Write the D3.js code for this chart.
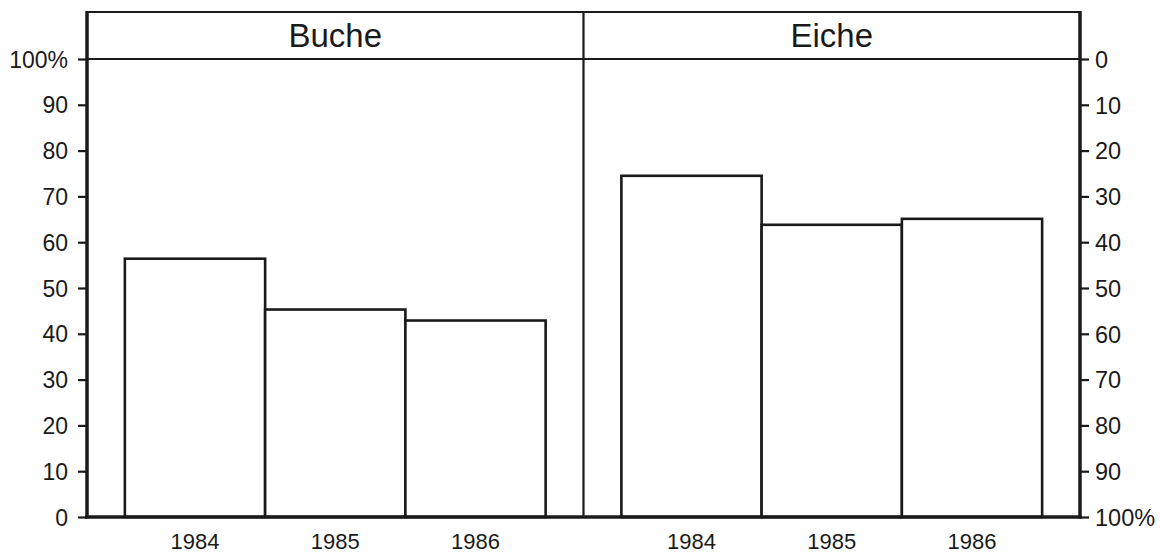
<!DOCTYPE html>
<html><head><meta charset="utf-8">
<script src="https://cdn.jsdelivr.net/npm/d3@7"></script>
<style>
body{margin:0;background:#fff;}
svg text{font-family:"Liberation Sans",Arial,sans-serif;fill:#1a1a1a;}
</style></head>
<body><svg id="c" width="1160" height="557"></svg>
<script>
const panels = ["Buche", "Eiche"];
const years = ["1984", "1985", "1986"];
const bucheValues = [56.4, 45.3, 42.9];
const eicheValues = [74.5, 63.8, 65.1];
const leftTicks = [0, 10, 20, 30, 40, 50, 60, 70, 80, 90, 100];
const rightTicks = [0, 10, 20, 30, 40, 50, 60, 70, 80, 90, 100];
const seriesValues = [bucheValues, eicheValues];

const svg = d3.select("#c");
const ink = "#1a1a1a";
const L = 87, R = 1080, T = 12, H = 59, B = 517;

const y = d3.scaleLinear().domain([0, 100]).range([B, H]);
const yr = d3.scaleLinear().domain([0, 100]).range([H, B]);
const px = d3.scaleBand().domain(panels).range([L, R]);

// bars
panels.forEach((p, i) => {
  const x = d3.scaleBand().domain(years).range([px(p), px(p) + px.bandwidth()])
    .paddingInner(0).paddingOuter(0.27);
  const g = svg.append("g");
  g.selectAll("rect").data(seriesValues[i]).join("rect")
    .attr("x", (d, j) => x(years[j]))
    .attr("y", d => y(d))
    .attr("width", x.bandwidth())
    .attr("height", d => B - y(d))
    .attr("fill", "#fff").attr("stroke", ink).attr("stroke-width", 2.6);
  g.selectAll("text").data(years).join("text")
    .attr("x", d => x(d) + x.bandwidth() / 2)
    .attr("y", 549).attr("text-anchor", "middle")
    .style("font-size", "22px").text(d => d);
  svg.append("text").attr("x", px(p) + px.bandwidth() / 2).attr("y", 47)
    .attr("text-anchor", "middle").style("font-size", "33px").text(p);
});

// frame lines
svg.append("line").attr("x1", L).attr("x2", R).attr("y1", T).attr("y2", T).attr("stroke", ink).attr("stroke-width", 2.2);
svg.append("line").attr("x1", L).attr("x2", R).attr("y1", H).attr("y2", H).attr("stroke", ink).attr("stroke-width", 2.2);
svg.append("line").attr("x1", px("Eiche")).attr("x2", px("Eiche")).attr("y1", T).attr("y2", B).attr("stroke", ink).attr("stroke-width", 2.2);

// left axis
const la = svg.append("g").attr("transform", `translate(${L},0)`)
  .call(d3.axisLeft(y).tickValues(leftTicks).tickSize(9).tickPadding(10)
    .tickFormat(d => d === 100 ? "100%" : d));
la.select(".domain").remove();
la.attr("font-family", null).attr("font-size", null);
la.selectAll(".tick line").attr("stroke", ink).attr("stroke-width", 2.2);
la.selectAll(".tick text").style("font-size", "23px").attr("dy", "0.35em");

// right axis
const ra = svg.append("g").attr("transform", `translate(${R},0)`)
  .call(d3.axisRight(yr).tickValues(rightTicks).tickSize(9).tickPadding(6)
    .tickFormat(d => d === 100 ? "100%" : d));
ra.select(".domain").remove();
ra.attr("font-family", null).attr("font-size", null);
ra.selectAll(".tick line").attr("stroke", ink).attr("stroke-width", 2.2);
ra.selectAll(".tick text").style("font-size", "23.5px").attr("dy", "0.35em");

// thick axis lines
svg.append("line").attr("x1", L).attr("x2", L).attr("y1", T - 1).attr("y2", B + 1.5).attr("stroke", ink).attr("stroke-width", 3.5);
svg.append("line").attr("x1", R).attr("x2", R).attr("y1", T - 1).attr("y2", B + 1.5).attr("stroke", ink).attr("stroke-width", 3.5);
svg.append("line").attr("x1", L - 2).attr("x2", R + 2).attr("y1", B).attr("y2", B).attr("stroke", ink).attr("stroke-width", 3.5);
</script></body></html>
